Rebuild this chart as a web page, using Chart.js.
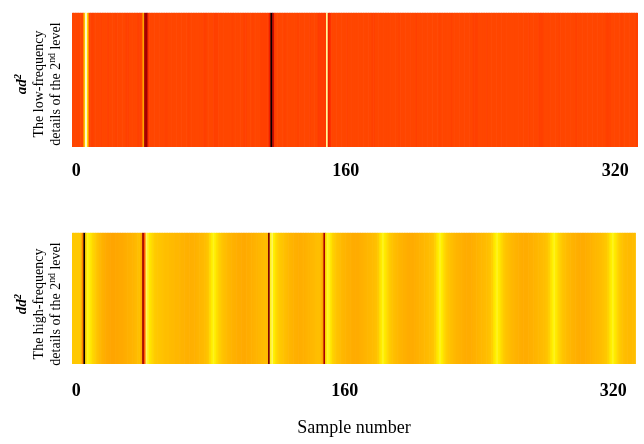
<!DOCTYPE html>
<html>
<head>
<meta charset="utf-8">
<script src="https://cdn.jsdelivr.net/npm/chart.js@4.4.1/dist/chart.umd.min.js"></script>
<style>
  body { margin: 0; background: #fff; }
  #wrap { position: relative; width: 644px; height: 444px; font-family: 'Liberation Serif', 'Times New Roman', serif; }
  .strip { position: absolute; left: 0; width: 644px; }
  .ylab { position: absolute; transform: translate(-50%, -50%) rotate(-90deg); text-align: center; white-space: nowrap; font-size: 14px; line-height: 17px; color: #000; }
  .ylab .sym { font-weight: bold; font-style: italic; font-size: 15px; }
  .ylab sup { font-size: 70%; line-height: 0; vertical-align: 0.45em; }
</style>
</head>
<body>
<div id="wrap">
  <div class="strip" style="top:0;height:187px"><canvas id="lowChart"></canvas></div>
  <div class="strip" style="top:220px;height:224px"><canvas id="highChart"></canvas></div>
  <div class="ylab" style="left:38px;top:84px"><span class="sym">ad<sup>2</sup></span><br>The low-frequency<br>details of the 2<sup>nd</sup> level</div>
  <div class="ylab" style="left:38px;top:304px"><span class="sym">dd<sup>2</sup></span><br>The high-frequency<br>details of the 2<sup>nd</sup> level</div>
</div>
<script>
// sample index of the first column, x ticks
const firstSample = -2;
const tickValues = [0, 160, 320];
const xTitle = 'Sample number';

// ad2 coefficients, 12 per row
const lowFreq = [
  0.47,0.47,0.47,0.47,0.47,0.47,0.47,0.68,0.97,0.74,0.47,0.46,
  0.455,0.47,0.47,0.47,0.47,0.46,0.47,0.47,0.47,0.455,0.47,0.47,
  0.47,0.47,0.46,0.47,0.47,0.47,0.47,0.47,0.455,0.455,0.47,0.47,
  0.47,0.47,0.47,0.455,0.455,0.47,0.6,0.3,0.28,0.42,0.47,0.47,
  0.47,0.47,0.47,0.47,0.47,0.47,0.47,0.46,0.46,0.47,0.47,0.47,
  0.47,0.47,0.47,0.47,0.47,0.47,0.47,0.47,0.47,0.46,0.47,0.47,
  0.47,0.47,0.47,0.47,0.47,0.47,0.455,0.455,0.47,0.47,0.47,0.47,
  0.455,0.455,0.455,0.47,0.47,0.47,0.47,0.47,0.47,0.47,0.47,0.46,
  0.47,0.47,0.47,0.47,0.47,0.47,0.455,0.455,0.47,0.47,0.47,0.46,
  0.47,0.47,0.47,0.47,0.455,0.455,0.455,0.455,0.455,0.38,0.02,0.32,
  0.45,0.47,0.47,0.47,0.47,0.47,0.46,0.47,0.47,0.47,0.47,0.47,
  0.47,0.47,0.46,0.47,0.47,0.47,0.47,0.47,0.47,0.46,0.47,0.47,
  0.47,0.47,0.445,0.445,0.445,0.445,0.445,0.9,0.38,0.42,0.47,0.47,
  0.47,0.47,0.47,0.47,0.47,0.47,0.47,0.46,0.47,0.47,0.47,0.47,
  0.47,0.47,0.47,0.47,0.47,0.47,0.47,0.47,0.47,0.47,0.455,0.455,
  0.47,0.47,0.47,0.47,0.47,0.47,0.47,0.47,0.47,0.47,0.47,0.47,
  0.47,0.47,0.46,0.47,0.47,0.47,0.47,0.47,0.47,0.47,0.47,0.47,
  0.455,0.47,0.47,0.47,0.47,0.47,0.47,0.47,0.47,0.47,0.47,0.47,
  0.47,0.47,0.46,0.47,0.47,0.47,0.47,0.47,0.47,0.455,0.47,0.47,
  0.47,0.47,0.47,0.47,0.47,0.47,0.47,0.47,0.47,0.47,0.455,0.455,
  0.455,0.47,0.47,0.47,0.47,0.47,0.46,0.47,0.47,0.47,0.47,0.47,
  0.47,0.47,0.47,0.47,0.47,0.47,0.47,0.47,0.47,0.47,0.47,0.47,
  0.47,0.47,0.47,0.47,0.47,0.47,0.47,0.46,0.47,0.47,0.47,0.47,
  0.47,0.455,0.455,0.455,0.47,0.47,0.47,0.47,0.47,0.47,0.47,0.47,
  0.47,0.46,0.47,0.47,0.47,0.47,0.47,0.47,0.47,0.47,0.47,0.455,
  0.47,0.47,0.47,0.47,0.47,0.47,0.47,0.47,0.47,0.47,0.47,0.47,
  0.47,0.47,0.47,0.47,0.47,0.455,0.455,0.455,0.47,0.47,0.47,0.47,
  0.47,0.47,0.46,0.47,0.47,0.47,0.47,0.47,0.47,0.47,0.47,0.455
];

// dd2 coefficients, 12 per row
const highFreq = [
  0.70,0.70,0.70,0.70,0.70,0.69,0.55,0.02,0.74,0.82,0.80,0.77,
  0.74,0.72,0.70,0.68,0.66,0.645,0.635,0.625,0.615,0.61,0.605,0.60,
  0.60,0.60,0.605,0.605,0.61,0.61,0.615,0.62,0.625,0.63,0.635,0.64,
  0.645,0.65,0.66,0.67,0.68,0.62,0.28,0.50,0.86,0.82,0.78,0.75,
  0.73,0.71,0.70,0.695,0.69,0.685,0.68,0.675,0.67,0.67,0.665,0.66,
  0.66,0.655,0.65,0.65,0.645,0.64,0.64,0.635,0.635,0.63,0.63,0.63,
  0.635,0.635,0.64,0.645,0.65,0.655,0.66,0.67,0.68,0.70,0.75,0.79,
  0.82,0.79,0.76,0.73,0.71,0.69,0.68,0.67,0.66,0.65,0.645,0.64,
  0.635,0.63,0.625,0.62,0.62,0.615,0.615,0.615,0.62,0.62,0.625,0.63,
  0.635,0.64,0.645,0.65,0.655,0.66,0.665,0.67,0.66,0.22,0.82,0.86,
  0.80,0.76,0.73,0.71,0.70,0.69,0.68,0.67,0.66,0.65,0.645,0.64,
  0.635,0.63,0.625,0.625,0.625,0.63,0.63,0.635,0.64,0.645,0.65,0.655,
  0.66,0.665,0.67,0.67,0.665,0.60,0.30,0.76,0.83,0.81,0.77,0.73,
  0.71,0.69,0.68,0.67,0.66,0.65,0.645,0.64,0.635,0.63,0.625,0.62,
  0.62,0.62,0.62,0.625,0.63,0.635,0.64,0.645,0.65,0.655,0.66,0.665,
  0.67,0.68,0.70,0.75,0.79,0.82,0.79,0.76,0.73,0.71,0.69,0.68,
  0.67,0.66,0.65,0.645,0.64,0.635,0.63,0.625,0.62,0.62,0.62,0.62,
  0.625,0.63,0.635,0.64,0.645,0.65,0.655,0.66,0.665,0.67,0.68,0.69,
  0.72,0.76,0.80,0.82,0.80,0.76,0.73,0.71,0.69,0.68,0.67,0.66,
  0.65,0.645,0.64,0.635,0.63,0.625,0.62,0.62,0.62,0.62,0.625,0.63,
  0.635,0.64,0.645,0.65,0.655,0.66,0.665,0.67,0.68,0.69,0.72,0.76,
  0.80,0.82,0.79,0.76,0.73,0.71,0.69,0.68,0.67,0.66,0.65,0.645,
  0.64,0.635,0.63,0.625,0.62,0.62,0.62,0.62,0.625,0.63,0.635,0.64,
  0.645,0.65,0.655,0.66,0.665,0.67,0.68,0.69,0.72,0.76,0.80,0.82,
  0.79,0.76,0.73,0.71,0.69,0.68,0.67,0.66,0.65,0.645,0.64,0.635,
  0.63,0.625,0.62,0.62,0.62,0.62,0.625,0.63,0.635,0.64,0.645,0.65,
  0.655,0.66,0.665,0.67,0.68,0.69,0.70,0.72,0.76,0.80,0.82,0.79,
  0.76,0.73,0.71,0.69,0.68,0.67,0.665,0.66,0.66,0.66,0.665,0.67
];

// black - red - orange - yellow - white
const colorStops = [
  [0.00, [0, 0, 0]],
  [0.30, [170, 0, 0]],
  [0.40, [255, 40, 0]],
  [0.47, [255, 70, 0]],
  [0.60, [255, 165, 0]],
  [0.70, [255, 200, 0]],
  [0.80, [255, 240, 0]],
  [0.90, [255, 250, 150]],
  [1.00, [255, 255, 255]]
];

function colorFor(v) {
  for (let k = 1; k < colorStops.length; k++) {
    const [v1, c1] = colorStops[k];
    if (v <= v1) {
      const [v0, c0] = colorStops[k - 1];
      const t = (v - v0) / (v1 - v0);
      const c = c0.map((ch, j) => Math.round(ch + (c1[j] - ch) * t));
      return `rgb(${c[0]},${c[1]},${c[2]})`;
    }
  }
  return 'rgb(255,255,255)';
}

const tickFont = { family: "'Liberation Serif', serif", size: 18, weight: 'bold' };

function stripChart(id, values, axisHeight, tickPad, title) {
  return new Chart(document.getElementById(id), {
    type: 'bar',
    data: {
      datasets: [{
        data: values.map((v, i) => ({ x: firstSample + i, y: 1 })),
        backgroundColor: values.map(colorFor),
        borderWidth: 0,
        barPercentage: 1,
        categoryPercentage: 1
      }]
    },
    options: {
      responsive: true, maintainAspectRatio: false,
      animation: false, events: [],
      layout: { padding: { left: 72, right: 6, top: 12.7, bottom: 0 } },
      plugins: { legend: { display: false }, tooltip: { enabled: false } },
      scales: {
        x: {
          type: 'linear', offset: false,
          min: firstSample - 0.5, max: firstSample + values.length - 0.5,
          grid: { display: false, drawTicks: false, offset: false },
          border: { display: false },
          afterBuildTicks: axis => { axis.ticks = tickValues.map(v => ({ value: v })); },
          afterFit: axis => { axis.height = axisHeight; },
          ticks: { autoSkip: false, maxRotation: 0, padding: tickPad, color: '#000', font: tickFont },
          title: title ? {
            display: true, text: title, color: '#000',
            font: { family: "'Liberation Serif', serif", size: 18 },
            padding: { top: 0, bottom: 5 }
          } : { display: false }
        },
        y: { display: false, min: 0, max: 1 }
      }
    }
  });
}

stripChart('lowChart', lowFreq, 40, 14, null);
stripChart('highChart', highFreq, 80, 17, xTitle);
</script>
</body>
</html>
